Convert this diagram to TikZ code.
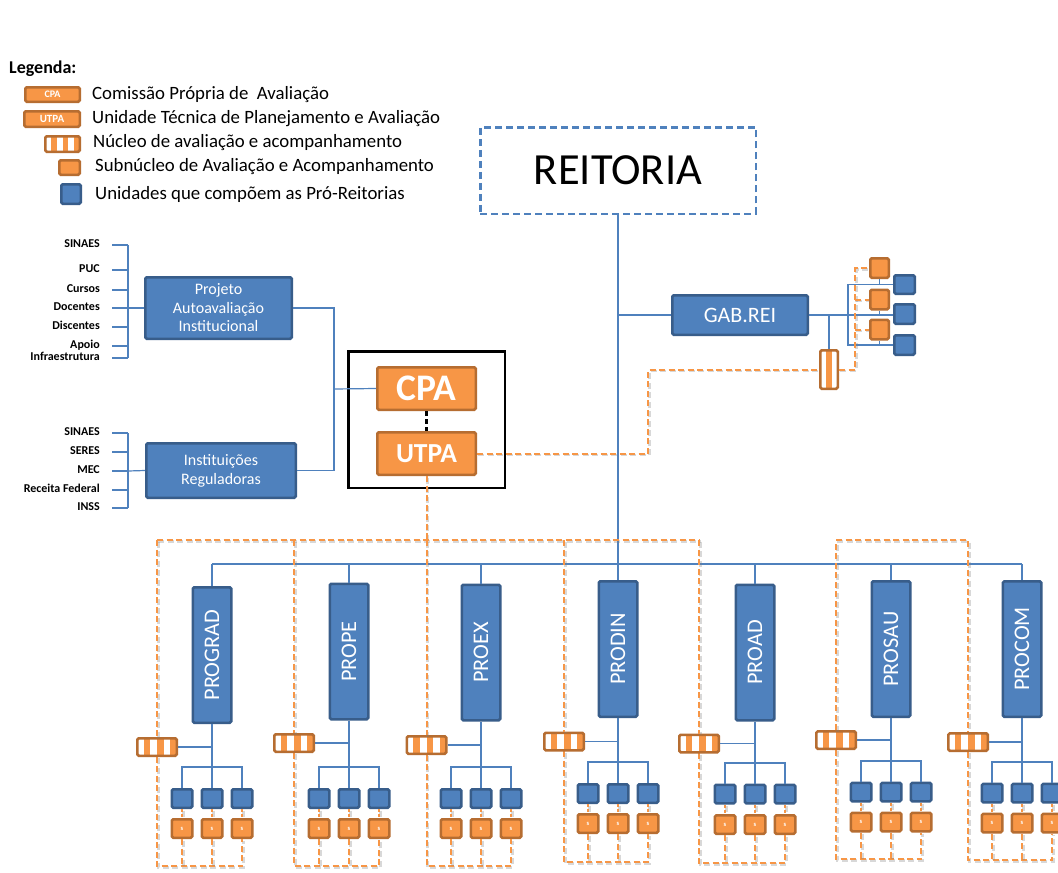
\documentclass[tikz,border=0pt]{standalone}
\usepackage{fontspec}
\setmainfont{Carlito}
\usetikzlibrary{calc}
\definecolor{blueF}{HTML}{4F81BD}
\definecolor{blueD}{HTML}{385D8A}
\definecolor{orF}{HTML}{F79646}
\definecolor{orD}{HTML}{B66D31}
\begin{document}
\begin{tikzpicture}[x=1pt,y=-1pt,
  bluebox/.style={draw=blueD, fill=blueF, line width=2.5pt, rounded corners=1.5pt, text=white, inner sep=0pt, align=center},
  orbox/.style={draw=orD, fill=orF, line width=2.5pt, rounded corners=1.5pt, text=white, inner sep=0pt, font=\bfseries},
  conn/.style={draw=blueF, line width=1.2pt},
  odash/.style={draw=orF, line width=2pt, dash pattern=on 6pt off 3.5pt,
    preaction={draw=black!50, opacity=0.3, line width=2.6pt, dash pattern=on 6pt off 3.5pt, transform canvas={shift={(1.2pt,-1.5pt)}}}},
  probox/.style={bluebox, minimum width=38.5pt, minimum height=135.5pt, font=\fontsize{22.3}{22.3}\selectfont},
  sqbox/.style={bluebox, minimum width=20.5pt, minimum height=18.5pt},
  subbox/.style={orbox, minimum width=20.5pt, minimum height=18.5pt, font=\fontsize{6.5}{6.5}\selectfont\bfseries},
  nucleo/.style={orbox, minimum width=39.5pt, minimum height=17.5pt, path picture={
    \foreach \a in {0,2,4}{
      \fill[white,sharp corners] ($(path picture bounding box.north west)!{\a/6}!(path picture bounding box.north east)$) rectangle ($(path picture bounding box.south west)!{(\a+1)/6}!(path picture bounding box.south east)$);
    }}},
  nucleoV/.style={orbox, minimum width=17.5pt, minimum height=38.5pt, path picture={
    \foreach \a in {0,2}{
      \fill[white,sharp corners] ($(path picture bounding box.north west)!{\a/3}!(path picture bounding box.north east)$) rectangle ($(path picture bounding box.south west)!{(\a+1)/3}!(path picture bounding box.south east)$);
    }}},
  lab/.style={anchor=east, inner sep=0pt, text height=8pt, text depth=2.5pt, font=\fontsize{12}{13}\selectfont\bfseries},
  legt/.style={anchor=west, inner sep=0pt, font=\fontsize{18.8}{20}\selectfont}
]
\useasboundingbox (0,0) rectangle (1058,873);
\clip (0,0) rectangle (1058,873);
\fill[white] (0,0) rectangle (1058,873);

% ---------- legend ----------
\node[anchor=west, inner sep=0pt, font=\fontsize{18}{18}\selectfont\bfseries] (legt0) at (9,69) {Legenda:};
\node[orbox, minimum width=54.5pt, minimum height=14.5pt, font=\fontsize{10}{10}\selectfont\bfseries] (lg1) at (52.5,94.5) {CPA};
\node[orbox, minimum width=55.5pt, minimum height=15.5pt, font=\fontsize{11}{11}\selectfont\bfseries] (lg2) at (52,119) {UTPA};
\node[nucleo, minimum width=34.5pt, minimum height=15.5pt] (lg3) at (62.5,144) {};
\node[orbox, minimum width=20.5pt, minimum height=14.5pt] (lg4) at (69.5,167.5) {};
\node[bluebox, minimum width=19.5pt, minimum height=19.5pt] (lg5) at (71,194) {};
\node[legt] (lt1) at (92,95) {Comissão Própria de\ \ Avaliação};
\node[legt] (lt2) at (92,119) {Unidade Técnica de Planejamento e Avaliação};
\node[legt] (lt3) at (93,143) {Núcleo de avaliação e acompanhamento};
\node[legt] (lt4) at (95,167) {Subnúcleo de Avaliação e Acompanhamento};
\node[legt] (lt5) at (95,194) {Unidades que compõem as Pró-Reitorias};

% ---------- REITORIA ----------
\node[draw=blueF, line width=2.5pt, dash pattern=on 7pt off 4pt, minimum width=275.5pt, minimum height=86.5pt, inner sep=0pt, font=\fontsize{44.5}{44.5}\selectfont] (reit) at (618,170.5) {REITORIA};

% ---------- GAB.REI ----------
\node[bluebox, minimum width=135.5pt, minimum height=39.5pt, font=\fontsize{22}{22}\selectfont] (gab) at (740,315) {GAB.REI};
\coordinate (jg) at (618,315);
\node[sqbox, minimum height=18.5pt] (gq1) at (904.5,284.5) {};
\node[sqbox, minimum height=19.5pt] (gq2) at (904.5,314) {};
\node[sqbox, minimum height=19.5pt] (gq3) at (904.5,345) {};
\node[orbox, minimum width=18.5pt, minimum height=19.5pt] (gs1) at (879.5,268) {};
\node[orbox, minimum width=18.5pt, minimum height=19.5pt] (gs2) at (879.5,299.5) {};
\node[orbox, minimum width=18.5pt, minimum height=19.5pt] (gs3) at (879.5,329.5) {};
\node[nucleoV] (ng) at (829,369.5) {};
\coordinate (gb) at (848,314);
\coordinate (gd) at (855,369.5);
\draw[conn] (jg) -- (gab.west);
\draw[conn] (gab.east) -- (gab.east -| gq2.west);
\draw[conn] (ng.north) -- (ng.north |- gab.east);
\draw[conn] (gq1.west) -- (gq1.west -| gb) -- (gq3.west -| gb) -- (gq3.west);
\draw[conn] (gs1.south) -- (gs1.south |- gq1.west);
\draw[conn] (gs2.south) -- (gs2.south |- gb);
\draw[conn] (gs3.south) -- (gs3.south |- gq3.west);
\draw[odash] (ng.east) -- (gd) -- (gd |- gs1.west) -- (gs1.west);
\draw[odash] (gd |- gs2.west) -- (gs2.west);
\draw[odash] (gd |- gs3.west) -- (gs3.west);

% ---------- CPA / UTPA ----------
\node[draw=black, line width=2.5pt, minimum width=156.5pt, minimum height=136.5pt, inner sep=0pt] (frame) at (426.5,419.5) {};
\node[orbox, minimum width=98.5pt, minimum height=42.5pt, font=\fontsize{37.5}{37.5}\selectfont\bfseries] (cpa) at (426.5,388.5) {CPA};
\node[orbox, minimum width=98.5pt, minimum height=42.5pt, font=\fontsize{27.5}{27.5}\selectfont\bfseries] (utpa) at (426.5,453.5) {UTPA};
\draw[black, line width=3pt, dash pattern=on 5pt off 3pt] (cpa.south) -- (utpa.north);
\coordinate (ud) at (648,369.5);
\draw[odash] (utpa.east) -| (ud) -- (ng.west);

% ---------- left side ----------
\node[bluebox, minimum width=146.5pt, minimum height=61.5pt, font=\fontsize{16}{18.5}\selectfont] (proj) at (218.5,308) {Projeto\\Autoavaliação\\Institucional};
\node[bluebox, minimum width=149.5pt, minimum height=54.5pt, font=\fontsize{16}{19}\selectfont] (inst) at (221,470.5) {Instituições\\Reguladoras};
\coordinate (jl) at (334,389);
\draw[conn] (proj.east) -| (jl);
\draw[conn] (inst.east) -| (jl);
\draw[conn] (jl) -- (cpa.west);
\coordinate (bA) at (128,308);
\coordinate (bB) at (128,471);
\foreach \t/\yy [count=\j] in {SINAES/245, PUC/270, Cursos/290, Docentes/308, Discentes/327, Apoio/346, Infraestrutura/358}{
  \node[lab] (la\j) at (100,\yy) {\t};
  \draw[conn] ([xshift=12pt]la\j.east) -- (la\j.east -| bA);
}
\draw[conn] (la1.east -| bA) -- (la7.east -| bA);
\draw[conn] (bA) -- (proj.west);
\foreach \t/\yy [count=\j] in {SINAES/433, SERES/452, MEC/471, Receita Federal/490, INSS/508}{
  \node[lab] (lb\j) at (100,\yy) {\t};
  \draw[conn] ([xshift=12pt]lb\j.east) -- (lb\j.east -| bB);
}
\draw[conn] (lb1.east -| bB) -- (lb5.east -| bB);
\draw[conn] (bB) -- (inst.west);

% ---------- pro-reitorias ----------
\foreach \i/\nm/\px/\py/\nx/\ny/\by/\qy/\sy/\ey in {
  1/PROGRAD/212/655/157/747/767/798.5/828.5/866,
  2/PROPE/349/651.5/294/743/767/798.5/828.5/866,
  3/PROEX/481/652.5/426.5/745/767/798.5/828.5/866,
  4/PRODIN/618/649/564/741.5/762/793.5/823.5/862,
  5/PROAD/755/652.5/699/743.5/763/794/824.5/863,
  6/PROSAU/891/649/836/740/761/792/822/859,
  7/PROCOM/1022/649/968/742/762/793/823/860}{
  \coordinate (k\i) at (\px,\by);
  \coordinate (e\i) at (\nx,\ey);
  \node[probox] (p\i) at (\px,\py) {\rotatebox{90}{\nm}};
  \node[sqbox] (qa\i) at (\px-30,\qy) {};
  \node[sqbox] (qb\i) at (\px,\qy) {};
  \node[sqbox] (qc\i) at (\px+30,\qy) {};
  \node[subbox] (sa\i) at (\px-30,\sy) {s};
  \node[subbox] (sb\i) at (\px,\sy) {s};
  \node[subbox] (sc\i) at (\px+30,\sy) {s};
  \draw[conn] (p\i.south) -- (k\i);
  \draw[conn] (qa\i.north) |- (k\i) -| (qc\i.north);
  \draw[conn] (k\i) -- (qb\i.north);
  \draw[odash] (\nx,\ny) -- (e\i) -| (sc\i.south);
  \draw[odash] (sa\i.south) -- (sa\i.south |- e\i);
  \draw[odash] (sb\i.south) -- (sb\i.south |- e\i);
  \foreach \l in {a,b,c}{
    \draw[odash, dash pattern=on 3pt off 2pt, line width=1.2pt, preaction={draw=none}] (q\l\i.south) -- (s\l\i.north);
  }
  \node[nucleo] (n\i) at (\nx,\ny) {};
  \draw[conn] (n\i.east) -- (n\i.east -| p\i.south);
}
\coordinate (busy) at (618,564);
\draw[conn] (reit.south) -- (p4.north);
\draw[conn] (p1.north |- busy) -- (p7.north |- busy);
\foreach \i in {1,2,3,5,6,7}{
  \draw[conn] (p\i.north |- busy) -- (p\i.north);
}
% dashed orange network
\coordinate (dt) at (426.5,540);
\draw[odash] (utpa.south) -- (dt);
\draw[odash] (n1.north |- dt) -- (n5.north |- dt);
\foreach \i in {1,2,3,4,5}{
  \draw[odash] (n\i.north |- dt) -- (n\i.north);
}
\draw[odash] (n6.north) -- (n6.north |- dt) -- (n7.north |- dt) -- (n7.north);
\end{tikzpicture}
\end{document}
